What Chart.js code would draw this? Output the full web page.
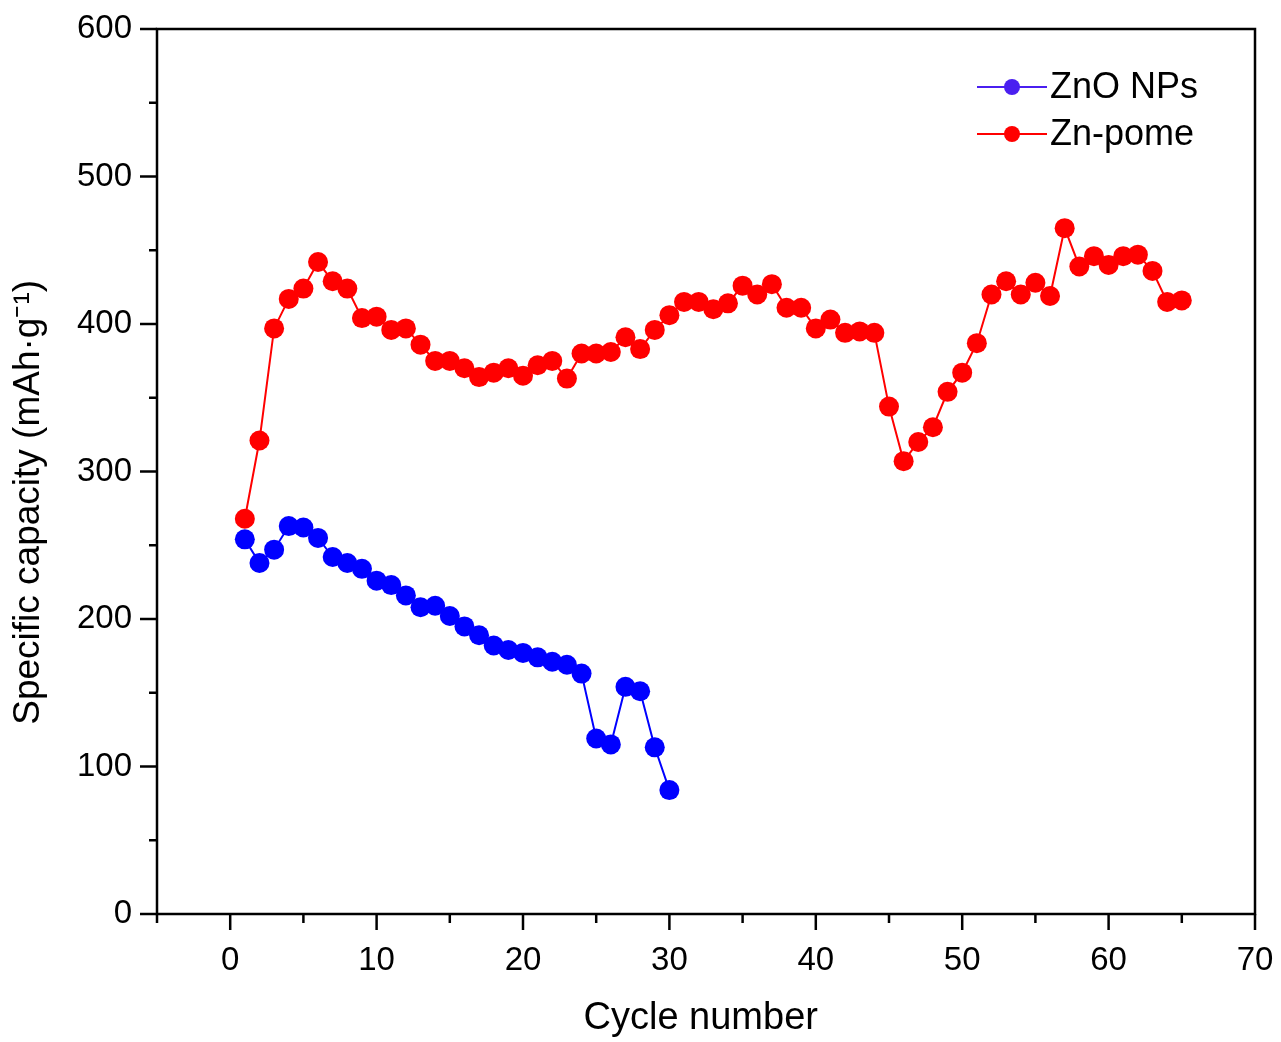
<!DOCTYPE html>
<html>
<head>
<meta charset="utf-8">
<script src="https://cdn.jsdelivr.net/npm/chart.js@4/dist/chart.umd.min.js"></script>
<style>
  html, body { margin: 0; padding: 0; background: #fff; }
  #wrap { width: 1281px; height: 1042px; }
</style>
</head>
<body>
<div id="wrap"><canvas id="c" width="1281" height="1042"></canvas></div>
<script>
// ---- Data ----
const seriesNames = ["ZnO NPs", "Zn-pome"];

const znoCycles = [1,2,3,4,5,6,7,8,9,10,11,12,13,14,15,16,17,18,19,20,21,22,23,24,25,26,27,28,29,30];
const znoCapacity = [254,238,247,263,262,255,242,238,234,226,223,216,208,209,202,195,189,182,179,177,174,171,169,163,119,115,154,151,113,84];

const pomeCycles = [1,2,3,4,5,6,7,8,9,10,11,12,13,14,15,16,17,18,19,20,21,22,23,24,25,26,27,28,29,30,
                    31,32,33,34,35,36,37,38,39,40,41,42,43,44,45,46,47,48,49,50,51,52,53,54,55,56,57,58,59,60,
                    61,62,63,64,65];
const pomeCapacity = [268,321,397,417,424,442,429,424,404,405,396,397,386,375,375,370,364,367,370,365,
                      372,375,363,380,380,381,391,383,396,406,415,415,410,414,426,420,427,411,411,397,
                      403,394,395,394,344,307,320,330,354,367,387,420,429,420,428,419,465,439,446,440,
                      446,447,436,415,416];

const xTickValues = [0,10,20,30,40,50,60,70];
const yTickValues = [0,100,200,300,400,500,600];

function toPoints(xs, ys) { return xs.map((x, i) => ({ x: x, y: ys[i] })); }

const FONT = '"Liberation Sans", Arial, Helvetica, sans-serif';

// Frame, custom tick marks and in-plot legend
const framePlugin = {
  id: 'frame',
  afterDraw(chart) {
    const ctx = chart.ctx;
    const a = chart.chartArea;
    const xs = chart.scales.x, ys = chart.scales.y;
    ctx.save();
    ctx.strokeStyle = '#000';
    ctx.lineWidth = 2.5;
    ctx.strokeRect(a.left, a.top, a.right - a.left, a.bottom - a.top);
    // y ticks (outward, left)
    for (let v = ys.min; v <= ys.max; v += 50) {
      const p = ys.getPixelForValue(v);
      const len = yTickValues.includes(v) ? 17 : 8;
      ctx.beginPath(); ctx.moveTo(a.left - len, p); ctx.lineTo(a.left, p); ctx.stroke();
    }
    // x ticks (outward, bottom)
    for (let v = xs.min; v <= xs.max; v += 5) {
      const p = xs.getPixelForValue(v);
      const len = xTickValues.includes(v) ? 16 : 9;
      ctx.beginPath(); ctx.moveTo(p, a.bottom); ctx.lineTo(p, a.bottom + len); ctx.stroke();
    }
    // legend
    const items = [
      { label: seriesNames[0], color: '#4a1ff0', y: 87 },
      { label: seriesNames[1], color: '#ff0000', y: 134 }
    ];
    ctx.font = '36px ' + FONT;
    ctx.textBaseline = 'middle';
    ctx.textAlign = 'left';
    items.forEach(it => {
      ctx.strokeStyle = it.color;
      ctx.lineWidth = 2;
      ctx.beginPath(); ctx.moveTo(977, it.y); ctx.lineTo(1047, it.y); ctx.stroke();
      ctx.fillStyle = it.color;
      ctx.beginPath(); ctx.arc(1012, it.y, 8, 0, Math.PI * 2); ctx.fill();
      ctx.fillStyle = '#000';
      ctx.fillText(it.label, 1050, it.y + 1);
    });
    ctx.restore();
  }
};

new Chart(document.getElementById('c'), {
  type: 'scatter',
  data: {
    datasets: [
      {
        label: seriesNames[0],
        data: toPoints(znoCycles, znoCapacity),
        showLine: true,
        borderColor: '#0000ff',
        backgroundColor: '#0000ff',
        borderWidth: 2,
        pointRadius: 10,
        pointBorderWidth: 0,
        pointHoverRadius: 10,
        tension: 0,
        order: 1
      },
      {
        label: seriesNames[1],
        data: toPoints(pomeCycles, pomeCapacity),
        showLine: true,
        borderColor: '#ff0000',
        backgroundColor: '#ff0000',
        borderWidth: 2,
        pointRadius: 10,
        pointBorderWidth: 0,
        pointHoverRadius: 10,
        tension: 0,
        order: 0
      }
    ]
  },
  options: {
    responsive: false,
    animation: false,
    events: [],
    layout: { padding: { top: 29, right: 26, left: 0, bottom: 0 } },
    plugins: { legend: { display: false }, tooltip: { enabled: false } },
    scales: {
      x: {
        type: 'linear',
        min: -5, max: 70,
        afterFit(s) { s.height = 128; s.paddingLeft = 0; s.paddingRight = 0; },
        border: { display: false },
        grid: { display: true, drawOnChartArea: false, drawTicks: true, tickLength: 14, color: 'rgba(0,0,0,0)' },
        ticks: {
          stepSize: 5, autoSkip: false, maxRotation: 0, padding: 13,
          color: '#000', font: { family: FONT, size: 33 },
          callback: v => (xTickValues.includes(v) ? String(v) : '')
        },
        title: { display: true, text: 'Cycle number ', color: '#000', font: { family: FONT, size: 38 }, padding: { top: 0, bottom: 1 } }
      },
      y: {
        type: 'linear',
        min: 0, max: 600,
        afterFit(s) { s.width = 157; s.paddingTop = 0; s.paddingBottom = 0; },
        border: { display: false },
        grid: { display: true, drawOnChartArea: false, drawTicks: true, tickLength: 17, color: 'rgba(0,0,0,0)' },
        ticks: {
          stepSize: 50, autoSkip: false, padding: 8,
          color: '#000', font: { family: FONT, size: 33 },
          callback: v => (yTickValues.includes(v) ? String(v) : '')
        },
        title: { display: true, text: 'Specific capacity (mAh\u00B7g\u207B\u00B9)      ', color: '#000', font: { family: FONT, size: 37 }, padding: { top: 7, bottom: 0 } }
      }
    }
  },
  plugins: [framePlugin]
});
</script>
</body>
</html>
